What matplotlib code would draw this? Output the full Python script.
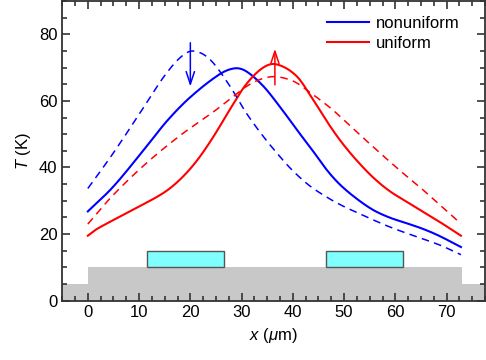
import matplotlib
matplotlib.use('Agg')
import matplotlib.pyplot as plt
from matplotlib.patches import Rectangle
from matplotlib.ticker import MultipleLocator
import numpy as np

plt.rcParams['font.family'] = ['Liberation Sans', 'DejaVu Sans']
plt.rcParams['mathtext.fontset'] = 'custom'
plt.rcParams['mathtext.it'] = 'Liberation Sans:italic'
plt.rcParams['mathtext.rm'] = 'Liberation Sans'

# nonuniform, solid
x_nu = [0, 5.0, 11.5, 15.4, 19.9, 25.7, 28.7, 30.9, 34.2, 37.4, 40.7, 43.9, 46.5,
        49.1, 52.3, 55.6, 58.8, 62.1, 65.3, 68.5, 72.8]
T_nu = [26.8, 34.3, 46.4, 53.9, 61.0, 68.0, 69.8, 68.9, 64.5, 58.4, 51.5, 45.0, 39.5,
        35.0, 30.8, 27.3, 25.0, 23.3, 21.6, 19.5, 16.1]
# nonuniform, dashed
x_nu_d = [0, 5.0, 11.5, 14.7, 18.0, 20.5, 23.8, 27.7, 30.9, 34.2, 37.4, 40.0, 43.2,
          46.5, 49.4, 52.3, 55.6, 58.8, 62.1, 68.5, 72.8]
T_nu_d = [33.7, 44.4, 59.5, 67.0, 73.0, 75.0, 72.5, 64.5, 56.4, 49.4, 43.4, 39.0, 34.6,
          31.2, 28.7, 26.6, 24.3, 22.2, 20.3, 16.8, 13.8]
# uniform, solid
x_u = [0, 1.75, 8.2, 14.7, 18.0, 21.2, 24.4, 27.7, 30.9, 34.2, 36.8, 40.7, 43.9, 47.1,
       49.4, 52.3, 55.6, 58.8, 62.1, 65.3, 68.5, 72.8]
T_u = [19.5, 21.5, 26.8, 32.3, 36.4, 41.9, 49.0, 57.4, 65.0, 70.0, 71.0, 67.5, 60.5, 52.8,
       47.8, 42.4, 37.1, 33.0, 29.8, 26.8, 23.8, 19.5]
# uniform, dashed
x_u_d = [0, 5.0, 11.5, 18.0, 24.4, 27.7, 30.9, 33.5, 36.4, 40.0, 42.8, 47.4, 50.0, 52.3,
         55.6, 58.8, 62.1, 65.3, 68.5, 72.8]
T_u_d = [23.0, 31.8, 41.4, 49.6, 56.6, 60.5, 64.3, 66.4, 67.3, 66.0, 63.2, 57.8, 54.2, 50.9,
         46.3, 41.9, 37.5, 33.4, 29.0, 23.1]

# substrate and heaters
sub_x = [-5, 0, 0, 73, 73, 77.5]
sub_y = [5, 5, 10, 10, 5, 5]
heaters = [(11.5, 26.5), (46.5, 61.5)]
heater_y = (10, 15)


def smooth(x, y, n=400):
    # cubic hermite through the read points
    x = np.asarray(x, float); y = np.asarray(y, float)
    xs = np.linspace(x[0], x[-1], n)
    out = []
    for xv in xs:
        i = min(max(np.searchsorted(x, xv) - 1, 0), len(x) - 2)
        x0, x1 = x[i], x[i + 1]
        y0, y1 = y[i], y[i + 1]
        m0 = (y1 - y[i - 1]) / (x1 - x[i - 1]) if i > 0 else (y1 - y0) / (x1 - x0)
        m1 = (y[i + 2] - y0) / (x[i + 2] - x0) if i + 2 < len(x) else (y1 - y0) / (x1 - x0)
        h = x1 - x0
        t = (xv - x0) / h
        h00 = 2*t**3 - 3*t**2 + 1; h10 = t**3 - 2*t**2 + t
        h01 = -2*t**3 + 3*t**2; h11 = t**3 - t**2
        out.append(h00*y0 + h10*h*m0 + h01*y1 + h11*h*m1)
    return xs, np.array(out)


fig = plt.figure(figsize=(4.86, 3.6), dpi=100)
ax = fig.add_axes([0.128, 0.165, 0.87, 0.832])

ax.fill_between(sub_x, 0, sub_y, color='#c8c8c8', lw=0, zorder=1)
for a, b in heaters:
    ax.add_patch(Rectangle((a, heater_y[0]), b - a, heater_y[1] - heater_y[0],
                           facecolor='#80ffff', edgecolor='#555555', lw=1, zorder=2))

lw = 1.5
ax.plot(*smooth(x_nu, T_nu), color='#0000ff', lw=lw, label='nonuniform', zorder=3)
ax.plot(*smooth(x_u, T_u), color='#ff0000', lw=lw, label='uniform', zorder=3)
ax.plot(*smooth(x_nu_d, T_nu_d), color='#0000ff', lw=1.1, dashes=(5, 3.5), zorder=3)
ax.plot(*smooth(x_u_d, T_u_d), color='#ff0000', lw=1.1, dashes=(5, 3.5), zorder=3)

ax.annotate('', xy=(20, 63.5), xytext=(20, 78.3),
            arrowprops=dict(arrowstyle='->,head_width=0.3,head_length=0.9', color='#0000ff', lw=1.1))
ax.annotate('', xy=(36.5, 76.5), xytext=(36.5, 64),
            arrowprops=dict(arrowstyle='->,head_width=0.3,head_length=0.9', color='#ff0000', lw=1.1))

ax.set_xlim(-5, 77.5)
ax.set_ylim(0, 90)
ax.xaxis.set_major_locator(MultipleLocator(10))
ax.xaxis.set_minor_locator(MultipleLocator(2.5))
ax.yaxis.set_major_locator(MultipleLocator(20))
ax.yaxis.set_minor_locator(MultipleLocator(5))
ax.tick_params(which='both', direction='in', top=True, right=True, labelsize=12,
               color='#333333', width=1.2)
ax.tick_params(which='major', length=6)
ax.tick_params(which='minor', length=3.5)
for s in ax.spines.values():
    s.set_linewidth(1.3)
    s.set_color('#333333')

ax.set_xlabel(r'$x$ ($\mu$m)', fontsize=12, labelpad=4)
ax.set_ylabel(r'$T$ (K)', fontsize=12, labelpad=4)

ax.legend(loc='upper right', frameon=False, fontsize=12, handlelength=2.5,
          handletextpad=0.4, labelspacing=0.3, borderaxespad=0.5,
          bbox_to_anchor=(0.975, 1.0))

fig.savefig('out.png', dpi=100)
